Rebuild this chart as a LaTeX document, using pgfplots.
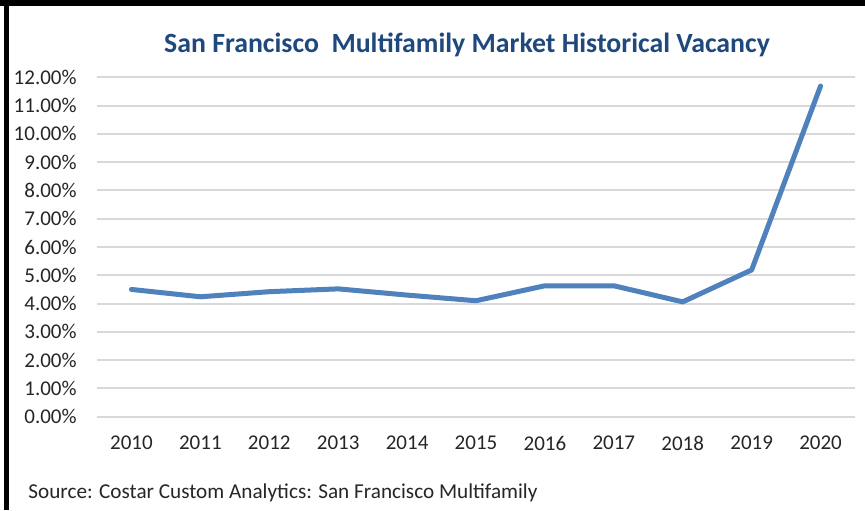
\documentclass[border=0pt]{standalone}
\usepackage{pgfplots}
\pgfplotsset{compat=1.18}
\usepackage{fontspec}
\setmainfont{Carlito}
\definecolor{titleblue}{HTML}{1F497D}
\definecolor{lineblue}{HTML}{4F81BD}
\definecolor{gridgray}{HTML}{D9D9D9}
\definecolor{txtgray}{HTML}{262626}
\begin{document}
\begin{tikzpicture}
\path[use as bounding box, fill=white] (0,0) rectangle (432.5pt,255pt);
\begin{axis}[
  scale only axis,
  width=379pt, height=169.7pt,
  at={(48.5pt,46.65pt)}, anchor=south west,
  xmin=2009.5, xmax=2020.5, ymin=0, ymax=12,
  axis line style={draw=none},
  major tick style={draw=none},
  ymajorgrids,
  grid style={gridgray, line width=1pt},
  xtick={2010,2011,2012,2013,2014,2015,2016,2017,2018,2019,2020},
  xticklabels={2010,2011,2012,2013,2014,2015,2016,2017,2018,2019,2020},
  ytick={0,1,2,3,4,5,6,7,8,9,10,11,12},
  yticklabels={0.00\%,1.00\%,2.00\%,3.00\%,4.00\%,5.00\%,6.00\%,7.00\%,8.00\%,9.00\%,10.00\%,11.00\%,12.00\%},
  ticklabel style={font=\fontsize{10.5pt}{12pt}\selectfont, text=txtgray, inner sep=0pt},
  yticklabel style={anchor=east, xshift=-10pt},
  xticklabel style={anchor=north, yshift=-9.6pt},
  clip=false,
]
\addplot[lineblue, line width=2.5pt, line join=round, line cap=round] coordinates {
 (2010,4.50) (2011,4.24) (2012,4.42) (2013,4.52) (2014,4.30) (2015,4.10)
 (2016,4.63) (2017,4.63) (2018,4.06) (2019,5.19) (2020,11.69)
};
\end{axis}
\node[anchor=base, inner sep=0pt, text=titleblue, font=\fontsize{13.9pt}{16pt}\selectfont\bfseries] at (233.5pt,228.85pt) {San Francisco\ \ Multifamily Market Historical Vacancy};
\node[anchor=base west, inner sep=0pt, text=txtgray, font=\fontsize{10.6pt}{12pt}\selectfont] at (14pt,5.85pt) {Source: Costar Custom Analytics: San Francisco Multifamily};
\draw[black, line width=2.5pt] (3.25pt,0pt) -- (3.25pt,255pt);
\draw[black, line width=3pt] (0pt,253.5pt) -- (432.5pt,253.5pt);
\end{tikzpicture}
\end{document}
